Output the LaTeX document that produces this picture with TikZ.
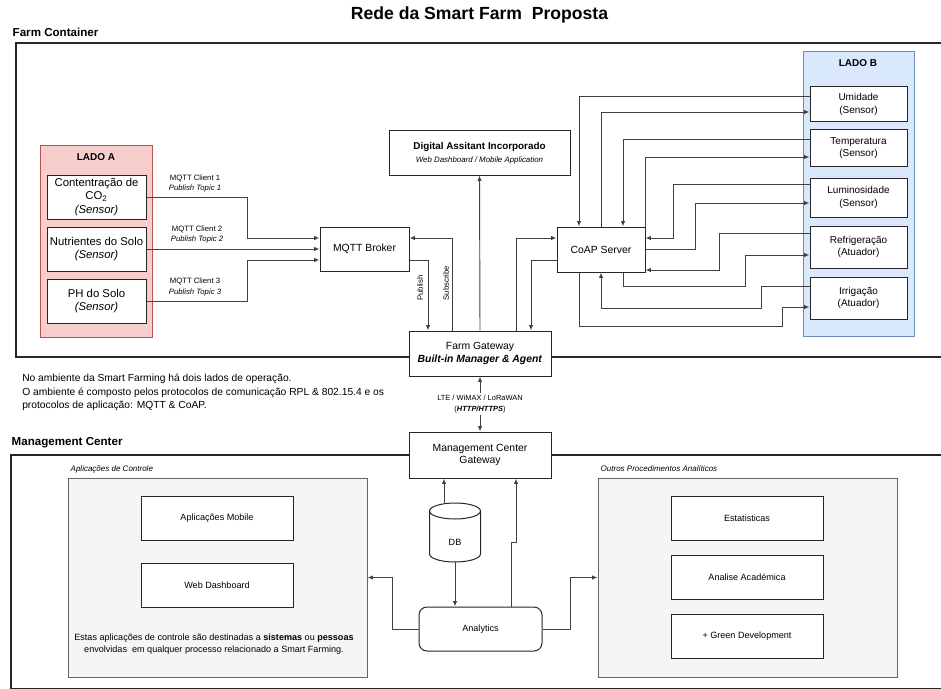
\documentclass[tikz,border=0pt]{standalone}
\usepackage{fontspec}
\setmainfont{Liberation Sans}
\usetikzlibrary{arrows.meta,calc}
\definecolor{redfill}{HTML}{F8CECC}
\definecolor{redline}{HTML}{B85450}
\definecolor{bluefill}{HTML}{DAE8FC}
\definecolor{blueline}{HTML}{6C8EBF}
\definecolor{grayfill}{HTML}{F5F5F5}
\definecolor{grayline}{HTML}{666666}
\newcommand\myfs[2]{\fontsize{#1}{#2}\selectfont}
\begin{document}
\begin{tikzpicture}[x=0.75pt,y=-0.75pt,
  rect/.style args={#1,#2,#3,#4}{at={({(#1+#3)/2},{(#2+#4)/2})},
     minimum width={(#3-#1)*0.75pt}, minimum height={(#4-#2)*0.75pt}},
  box/.style={draw=black!85, fill=white, inner sep=0pt, align=center, line width=0.75pt},
  grpA/.style={draw=redline, fill=redfill, inner sep=0pt, line width=0.75pt},
  grpB/.style={draw=blueline, fill=bluefill, inner sep=0pt, line width=0.75pt},
  grpG/.style={draw=grayline, fill=grayfill, inner sep=0pt, line width=0.75pt},
  arr/.style={draw=black!75, line width=0.7pt, -{Latex[length=4pt,width=3.2pt]}},
  biarr/.style={draw=black!75, line width=0.7pt, {Latex[length=4pt,width=3.2pt]}-{Latex[length=4pt,width=3.2pt]}},
  container/.style={draw=black!85, line width=1.1pt},
  fsMain/.style={font=\myfs{7.8}{9.6}},
  fsSens/.style={font=\myfs{8.5}{10}},
  fsB/.style={font=\myfs{7.5}{9.4}},
  fsSmall/.style={font=\myfs{5.8}{8.2}},
  fsMgmt/.style={font=\myfs{6.8}{9}},
  sect/.style={font=\bfseries\myfs{8.7}{10}, anchor=west},
  grouplabel/.style={font=\itshape\myfs{6}{7}, anchor=west}
]
\useasboundingbox (0,0) rectangle (941,688);
\fill[white] (0,0) rectangle (941,688);
\clip (0,0) rectangle (941,688);

% title and containers
\node[font=\bfseries\myfs{13.2}{15}] (title) at (479.5,15) {Rede da Smart Farm~ Proposta};
\node[sect] (farmlbl) at (8,32) {Farm Container};
\draw[container] (16,43) rectangle (962,357);
\node[sect] (mgmtlbl) at (7,443) {Management Center};
\draw[container] (11,455) rectangle (962,689);

% Lado A
\node[grpA, rect={40,146,152,337}] (ladoA) {};
\node[font=\bfseries\myfs{7.5}{9}] (ladoAt) at (96,157) {LADO A};
\node[box, fsSens, rect={47,175,146,219}] (co2) {Contentração de\\CO\textsubscript{2}\\\textit{(Sensor)}};
\node[box, fsSens, rect={47,227,146,271}] (nutr) {Nutrientes do Solo\\\textit{(Sensor)}};
\node[box, fsSens, rect={47,279,146,323}] (ph) {PH do Solo\\\textit{(Sensor)}};

% Lado B
\node[grpB, rect={803,52,914,336}] (ladoB) {};
\node[font=\bfseries\myfs{7.5}{9}] (ladoBt) at (858,63) {LADO B};
\node[box, fsB, rect={810,87,907,122}] (umi) {Umidade\\(Sensor)};
\node[box, fsB, rect={810,130,907,166}] (tem) {Temperatura\\(Sensor)};
\node[box, fsB, rect={810,178,907,217}] (lum) {Luminosidade\\(Sensor)};
\node[box, fsB, rect={810,226,907,268}] (ref) {Refrigeração\\(Atuador)};
\node[box, fsB, rect={810,277,907,319}] (irr) {Irrigação\\(Atuador)};

% central nodes
\node[box, fsMain, rect={320,227,409,271}] (broker) {MQTT Broker};
\node[box, font=\myfs{7.4}{9.6}, rect={389,131,570,175}] (da) {\textbf{Digital Assitant Incorporado}\\{\itshape\fontsize{5.9}{9.6}\selectfont Web Dashboard / Mobile Application}};
\node[box, fsMain, rect={409,331,551,376}] (fg) {Farm Gateway\\\textbf{\textit{Built-in Manager \& Agent}}};
\node[box, fsMain, rect={557,227,645,272}] (coap) {CoAP Server};
\node[box, fsMain, rect={409,432,551,478}] (mcg) {Management Center\\Gateway};

% MQTT client labels
\node[fsSmall, align=center] (l1) at (195,183.5) {MQTT Client 1\\\textit{Publish Topic 1}};
\node[fsSmall, align=center] (l2) at (197,234.5) {MQTT Client 2\\\textit{Publish Topic 2}};
\node[fsSmall, align=center] (l3) at (195,287) {MQTT Client 3\\\textit{Publish Topic 3}};

% Lado A -> broker
\draw[arr] (co2.east) -| (247,238) -- (broker.west |- 0,238);
\draw[arr] (nutr.east) -- (broker.west |- nutr.east);
\draw[arr] (ph.east) -| (247,260) -- (broker.west |- 0,260);

% broker <-> gateway
\draw[arr] (broker.east |- 0,260) -| (fg.north -| 428,0);
\draw[arr] (fg.north -| 452,0) |- (broker.east |- 0,238);
\node[rotate=90, font=\myfs{5.8}{7}] (pub) at (420,288) {Publish};
\node[rotate=90, font=\myfs{5.8}{7}] (sub) at (446,283) {Subscribe};
\draw[arr] (fg.north) -- (da.south);

% gateway <-> coap
\draw[arr] (fg.north -| 516,0) |- (coap.west |- 0,238);
\draw[arr] (coap.west |- 0,260) -| (fg.north -| 531,0);

% coap <-> Lado B
\draw[arr] (umi.west |- 0,96) -| (coap.north -| 579,0);
\draw[arr] (coap.north -| 601,0) |- (umi.west |- 0,112);
\draw[arr] (tem.west |- 0,139) -| (coap.north -| 623,0);
\draw[arr] (coap.north east) |- (tem.west |- 0,157);
\draw[arr] (lum.west |- 0,184) -| (673,238) -- (coap.east |- 0,238);
\draw[arr] (coap.east |- 0,249) -| (695,203) -- (lum.west |- 0,203);
\draw[arr] (ref.west |- 0,233) -| (719,270) -- (coap.east |- 0,270);
\draw[arr] (coap.south -| 623,0) |- (745,286) |- (ref.west |- 0,255);
\draw[arr] (irr.west |- 0,286) -| (761,308) -| (coap.south -| 601,0);
\draw[arr] (coap.south -| 579,0) |- (782,326) |- (irr.west |- 0,307);

% note text
\node[anchor=north west, align=left, font=\myfs{7.7}{10.1}, inner sep=0pt] (note) at (22,374)
  {No ambiente da Smart Farming há dois lados de operação.\\
   O ambiente é composto pelos protocolos de comunicação RPL \& 802.15.4 e os\\
   protocolos de aplicação: MQTT \& CoAP.};

% gateway link
\draw[biarr] (fg.south) -- node[fill=white, inner sep=1pt, align=center, font=\myfs{5.6}{8.6}] (net)
  {LTE / WiMAX / LoRaWAN\\(\textbf{\textit{HTTP/HTTPS}})} (mcg.north);

% management groups
\node[grouplabel] (ctrllbl) at (66,469) {Aplicações de Controle};
\node[grpG, rect={68,478,367,677}] (ctrl) {};
\node[box, fsMgmt, rect={141,496,293,540}] (mob) {Aplicações Mobile};
\node[box, fsMgmt, rect={141,563,293,607}] (web) {Web Dashboard};
\node[fsMgmt, align=center] (ctrltxt) at (214,644.5)
  {Estas aplicações de controle são destinadas a \textbf{sistemas} ou \textbf{pessoas}\\envolvidas~ em qualquer processo relacionado a Smart Farming.};

\node[grouplabel] (outlbl) at (596,469) {Outros Procedimentos Analíticos};
\node[grpG, rect={598,478,897,677}] (outros) {};
\node[box, fsMgmt, rect={671,496,823,540}] (est) {Estatisticas};
\node[box, fsMgmt, rect={671,555,823,599}] (aca) {Analise Académica};
\node[box, fsMgmt, rect={671,614,823,658}] (green) {+ Green Development};

% DB cylinder
\path[draw=black!85, fill=white, line width=0.75pt] (429.5,511) -- (429.5,554)
  arc[start angle=180, end angle=0, x radius=25.5, y radius=8] -- (480.5,511)
  arc[start angle=0, end angle=-180, x radius=25.5, y radius=8] -- cycle;
\draw[black!85, line width=0.75pt] (480.5,511) arc[start angle=0, end angle=180, x radius=25.5, y radius=8];
\node[fsMgmt, inner sep=0pt, rect={429.5,503,480.5,562}] (db) {};
\node[fsMgmt] (dbt) at (455,542) {DB};

% analytics
\node[box, fsMgmt, rounded corners=6pt, rect={419,607,542,651}] (an) {Analytics};

\draw[arr] (db.north -| 444,0) ++(0,1) -- (mcg.south -| 444,0);
\draw[arr] (db.south -| 455,0) -- (an.north -| 455,0);
\draw[arr] (an.north -| 511,0) -- (511,542) -- (516,542) -- (mcg.south -| 516,0);
\draw[arr] (an.west) -- ++(-26,0) |- (ctrl.east);
\draw[arr] (an.east) -- ++(28,0) |- (outros.west);
\end{tikzpicture}
\end{document}
